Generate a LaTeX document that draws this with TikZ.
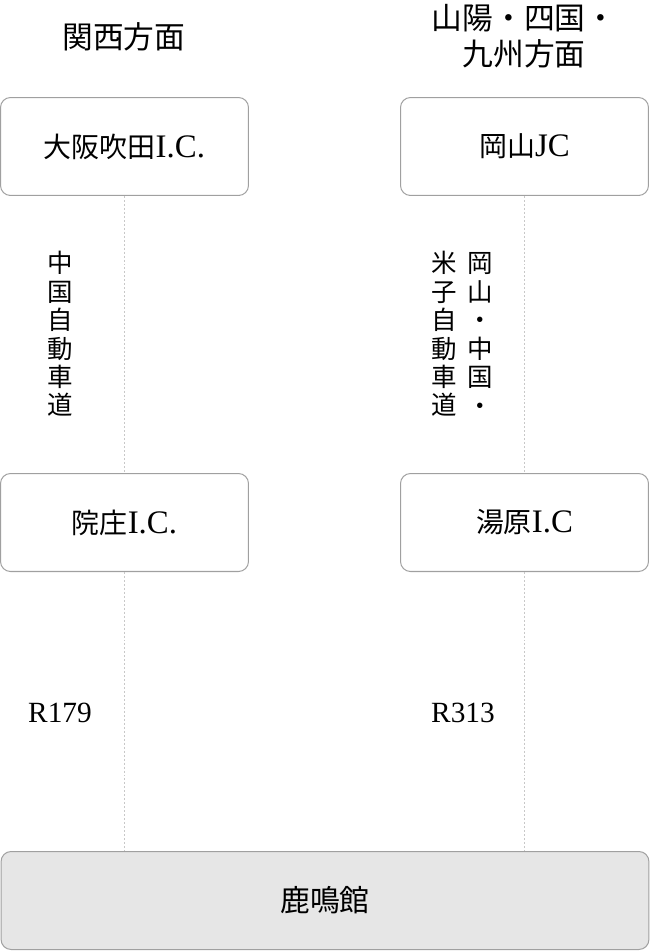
\documentclass[tikz,border=0pt]{standalone}
\usepackage{fontspec}
\setmainfont{Liberation Serif}
\newfontfamily\cjk{Noto Sans CJK JP}
\newcommand\ja[1]{{\cjk\fontsize{15.9}{20}\selectfont #1}}
\definecolor{boxline}{HTML}{A0A0A0}
\definecolor{roadline}{HTML}{C8C8C8}
\definecolor{goalfill}{HTML}{E6E6E6}

\tikzset{
  icbox/.style={draw=boxline, line width=0.57pt, rounded corners=0.2cm, minimum width=4.96cm,
    minimum height=1.96cm, font=\fontsize{18.7}{20}\selectfont},
  goalbox/.style={icbox, fill=goalfill, minimum width=12.96cm,
    font=\cjk\fontsize{17}{20}\selectfont},
  road/.style={draw=roadline, line width=0.57pt, dash pattern=on 1.13pt off 1.13pt},
  roadname/.style={align=center, inner sep=0pt, font=\cjk\fontsize{14.5}{16.2}\selectfont},
  routeno/.style={font=\fontsize{16.7}{18}\selectfont},
  direction/.style={align=center, font=\cjk\fontsize{17.5}{20.4}\selectfont}
}

\begin{document}
\begin{tikzpicture}[x=0.02cm, y=-0.02cm]
  \useasboundingbox (0,0) rectangle (650,951);

  % directions
  \node[direction] (kansai) at (124,37) {関西方面};
  \node[direction] (sanyo) at (524,36) {山陽・四国・\\九州方面};

  % interchanges
  \node[icbox] (suita) at (124.5,146.5) {\ja{大阪吹田}I.C.};
  \node[icbox] (okayama) at (524.5,146.5) {\ja{岡山}JC};
  \node[icbox] (insho) at (124.5,522.5) {\ja{院庄}I.C.};
  \node[icbox] (yubara) at (524.5,522.5) {\ja{湯原}I.C};
  \node[goalbox] (rokumeikan) at (325,900.5) {鹿鳴館};

  % roads
  \draw[road] (suita) -- (insho);
  \draw[road] (okayama) -- (yubara);
  \draw[road] (insho) -- (insho |- rokumeikan.north);
  \draw[road] (yubara) -- (yubara |- rokumeikan.north);

  \node[roadname] (chugoku) at (60.5,334) {中\\国\\自\\動\\車\\道};
  \node[roadname] (okachu) at (480,334) {岡\\山\\・\\中\\国\\・};
  \node[roadname] (yonago) at (444.5,334) {米\\子\\自\\動\\車\\道};
  \node[routeno] (r179) at (60,713) {R179};
  \node[routeno] (r313) at (463,713) {R313};
\end{tikzpicture}
\end{document}
